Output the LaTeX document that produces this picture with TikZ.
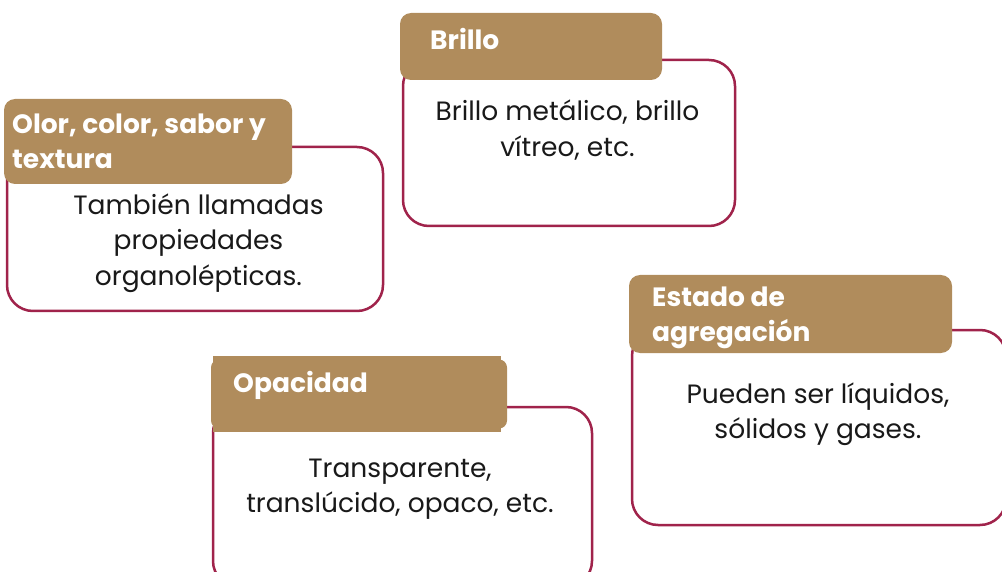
\documentclass[tikz,border=0pt]{standalone}
\usepackage{fontspec}
\setmainfont{Poppins}
\definecolor{tan}{HTML}{B08C5C}
\definecolor{maroon}{HTML}{A0234B}
\begin{document}
\begin{tikzpicture}[x=1pt,y=-1pt,
  card/.style={draw=maroon, line width=2.5pt, fill=white, rounded corners=26pt, anchor=north west, inner sep=0pt, outer sep=0pt},
  tag/.style={fill=tan, rounded corners=11pt, anchor=north west, inner sep=0pt, outer sep=0pt},
  tagtext/.style={anchor=west, align=left, text=white, font=\fontsize{26.5}{35}\selectfont\bfseries, inner sep=0pt},
  body/.style={align=center, text=black!90, font=\fontsize{26.5}{35.5}\selectfont, inner sep=0pt}]
\clip (0,0) rectangle (1002,572);
% card 1
\node[card, minimum width=376pt, minimum height=164pt] (c1) at (7,147) {};
\node[tag, minimum width=288pt, minimum height=85pt] (t1) at (4,99) {};
\node[tagtext] (l1) at (12,141) {Olor, color, sabor y\\textura};
\node[body] (b1) at (198.5,243) {También llamadas\\propiedades\\organolépticas.};
% card 2
\node[card, minimum width=332pt, minimum height=166pt] (c2) at (403,60) {};
\node[tag, minimum width=262pt, minimum height=67pt] (t2) at (400,13) {};
\node[tagtext] (l2) at (430,39) {Brillo};
\node[body] (b2) at (567.5,130) {Brillo metálico, brillo\\vítreo, etc.};
% card 3
\node[card, minimum width=379pt, minimum height=180pt] (c3) at (213,407) {};
\node[tag, minimum width=296pt, minimum height=69pt, rounded corners=8pt] (t3) at (211,359.5) {};
\node[fill=tan, anchor=north west, minimum width=288pt, minimum height=76pt, inner sep=0pt] (t3b) at (213,356) {};
\node[tagtext] (l3) at (233,385) {Opacidad};
\node[body] (b3) at (400,489) {Transparente,\\translúcido, opaco, etc.};
% card 4
\node[card, minimum width=374pt, minimum height=195pt] (c4) at (632,330) {};
\node[tag, minimum width=323pt, minimum height=78pt] (t4) at (629,275) {};
\node[tagtext] (l4) at (652,317.5) {Estado de\\agregación};
\node[body] (b4) at (818,414) {Pueden ser líquidos,\\sólidos y gases.};
\end{tikzpicture}
\end{document}
